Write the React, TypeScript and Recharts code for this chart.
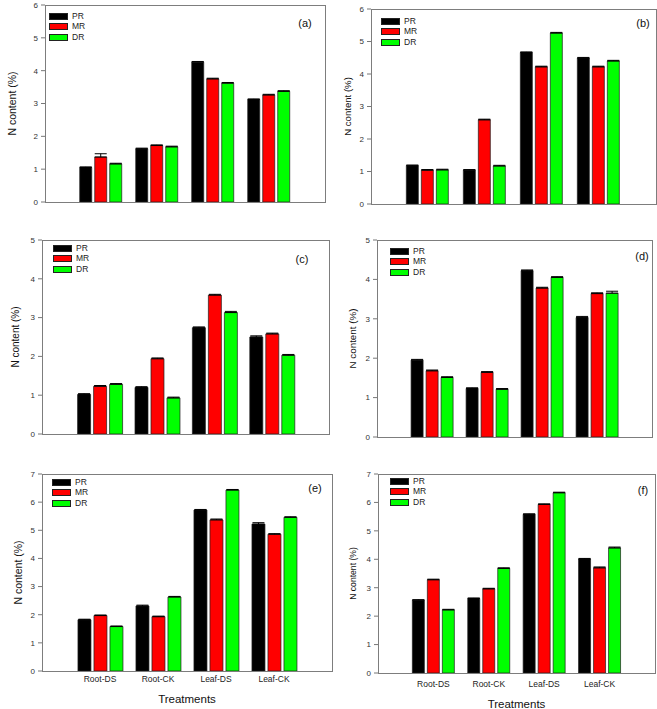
import React from 'react';
import { BarChart, Bar, XAxis, YAxis, ErrorBar, Legend } from 'recharts';

const treatments = ['Root-DS', 'Root-CK', 'Leaf-DS', 'Leaf-CK'];
const seriesNames = ['PR', 'MR', 'DR'];
const seriesColors = ['#000000', '#ff0000', '#00ff00'];

const ticks5 = [0, 1, 2, 3, 4, 5];
const ticks6 = [0, 1, 2, 3, 4, 5, 6];
const ticks7 = [0, 1, 2, 3, 4, 5, 6, 7];

// (a)
const aPR = [1.05, 1.62, 4.26, 3.12];
const aMR = [1.37, 1.72, 3.75, 3.26];
const aDR = [1.16, 1.68, 3.62, 3.37];
const aPRerr = [0.02, 0.02, 0.02, 0.02];
const aMRerr = [0.1, 0.02, 0.02, 0.02];
const aDRerr = [0.02, 0.02, 0.02, 0.02];

// (b)
const bPR = [1.18, 1.04, 4.66, 4.49];
const bMR = [1.04, 2.59, 4.22, 4.22];
const bDR = [1.05, 1.17, 5.26, 4.4];
const bPRerr = [0.02, 0.02, 0.02, 0.02];
const bMRerr = [0.02, 0.02, 0.02, 0.02];
const bDRerr = [0.02, 0.02, 0.02, 0.02];

// (c)
const cPR = [1.02, 1.2, 2.74, 2.5];
const cMR = [1.23, 1.94, 3.58, 2.58];
const cDR = [1.28, 0.93, 3.13, 2.03];
const cPRerr = [0.02, 0.02, 0.02, 0.03];
const cMRerr = [0.02, 0.02, 0.02, 0.02];
const cDRerr = [0.02, 0.02, 0.03, 0.02];

// (d)
const dPR = [1.95, 1.23, 4.22, 3.03];
const dMR = [1.68, 1.64, 3.78, 3.64];
const dDR = [1.51, 1.21, 4.05, 3.65];
const dPRerr = [0.02, 0.02, 0.02, 0.03];
const dMRerr = [0.02, 0.02, 0.02, 0.02];
const dDRerr = [0.02, 0.02, 0.02, 0.05];

// (e)
const ePR = [1.82, 2.31, 5.72, 5.22];
const eMR = [1.97, 1.93, 5.37, 4.86];
const eDR = [1.58, 2.63, 6.43, 5.46];
const ePRerr = [0.02, 0.03, 0.02, 0.05];
const eMRerr = [0.02, 0.02, 0.03, 0.02];
const eDRerr = [0.02, 0.02, 0.02, 0.02];

// (f)
const fPR = [2.56, 2.62, 5.58, 4.01];
const fMR = [3.28, 2.96, 5.93, 3.7];
const fDR = [2.22, 3.68, 6.34, 4.4];
const fPRerr = [0.02, 0.02, 0.02, 0.02];
const fMRerr = [0.02, 0.02, 0.02, 0.03];
const fDRerr = [0.02, 0.02, 0.02, 0.03];

const makeRows = (pr: number[], mr: number[], dr: number[], pe: number[], me: number[], de: number[]) =>
  treatments.map((name, i) => ({
    name,
    PR: pr[i],
    MR: mr[i],
    DR: dr[i],
    PRe: [0, pe[i]],
    MRe: [0, me[i]],
    DRe: [0, de[i]],
  }));

const panels = [
  {
    id: 'a', rows: makeRows(aPR, aMR, aDR, aPRerr, aMRerr, aDRerr), ticks: ticks6,
    box: { x: 0, y: 0, w: 340, h: 225 }, plot: { l: 45, t: 5, r: 325, b: 202 },
    legend: { x: 49, y: 16 }, letter: { x: 305, y: 23 }, ylab: { x: 12, size: 10.5 },
  },
  {
    id: 'b', rows: makeRows(bPR, bMR, bDR, bPRerr, bMRerr, bDRerr), ticks: ticks6,
    box: { x: 330, y: 0, w: 327, h: 225 }, plot: { l: 371, t: 9, r: 656, b: 204 },
    legend: { x: 381, y: 21 }, letter: { x: 643, y: 23 }, ylab: { x: 348, size: 9.6 },
  },
  {
    id: 'c', rows: makeRows(cPR, cMR, cDR, cPRerr, cMRerr, cDRerr), ticks: ticks5,
    box: { x: 0, y: 225, w: 340, h: 230 }, plot: { l: 42, t: 240, r: 329, b: 434 },
    legend: { x: 53, y: 248 }, letter: { x: 302, y: 259 }, ylab: { x: 15, size: 10 },
  },
  {
    id: 'd', rows: makeRows(dPR, dMR, dDR, dPRerr, dMRerr, dDRerr), ticks: ticks5,
    box: { x: 330, y: 225, w: 327, h: 230 }, plot: { l: 377, t: 240, r: 652, b: 437 },
    legend: { x: 390, y: 251 }, letter: { x: 642, y: 256 }, ylab: { x: 353, size: 9.8 },
  },
  {
    id: 'e', rows: makeRows(ePR, eMR, eDR, ePRerr, eMRerr, eDRerr), ticks: ticks7,
    box: { x: 0, y: 455, w: 340, h: 254 }, plot: { l: 42, t: 474, r: 332, b: 671 },
    legend: { x: 52, y: 482 }, letter: { x: 315, y: 488 }, ylab: { x: 18, size: 10.5 },
    bottom: { base: 703, tickMargin: 5 },
  },
  {
    id: 'f', rows: makeRows(fPR, fMR, fDR, fPRerr, fMRerr, fDRerr), ticks: ticks7,
    box: { x: 330, y: 455, w: 327, h: 254 }, plot: { l: 378, t: 474, r: 655, b: 673 },
    legend: { x: 390, y: 481 }, letter: { x: 643, y: 490 }, ylab: { x: 353, size: 8.6 },
    bottom: { base: 708, tickMargin: 8 },
  },
];

const ROW_H = 10.5;

// keep PR / MR / DR order (recharts sorts legend items by name otherwise)
const renderLegend = (props: any) => {
  const items = [...(props.payload || [])].sort(
    (x: any, y: any) => seriesNames.indexOf(x.value) - seriesNames.indexOf(y.value)
  );
  return (
    <div style={{ fontSize: 8.5, color: '#222', lineHeight: `${ROW_H}px` }}>
      {items.map((p: any) => (
        <div key={p.value} style={{ display: 'flex', alignItems: 'center', height: ROW_H }}>
          <span
            style={{
              display: 'inline-block',
              width: 17,
              height: 5,
              background: p.color,
              border: '1px solid #222',
              marginRight: 4,
            }}
          />
          <span>{p.value}</span>
        </div>
      ))}
    </div>
  );
};

const Panel = ({ p }: { p: any }) => {
  const { box, plot } = p;
  const ml = 2;
  const yw = plot.l - box.x - ml;
  const mt = plot.t - box.y;
  const mr = box.x + box.w - plot.r;
  const xh = p.bottom ? p.bottom.base - plot.b : 2;
  const mb = box.y + box.h - plot.b - xh;
  const pw = plot.r - plot.l;
  const pad = pw / 10;
  const yMax = p.ticks[p.ticks.length - 1];

  return (
    <div style={{ position: 'absolute', left: box.x, top: box.y, width: box.w, height: box.h }}>
      <BarChart
        width={box.w}
        height={box.h}
        data={p.rows}
        margin={{ top: mt, right: mr, bottom: mb, left: ml }}
        barCategoryGap="12%"
        barGap={3}
      >
        <XAxis
          dataKey="name"
          padding={{ left: pad, right: pad }}
          axisLine={false}
          tickLine={false}
          tickSize={0}
          height={xh}
          tickMargin={p.bottom ? p.bottom.tickMargin : 0}
          tick={p.bottom ? { fontSize: 8.5, fill: '#222' } : false}
          interval={0}
          label={
            p.bottom
              ? { value: 'Treatments', position: 'insideBottom', offset: 0, style: { fontSize: 11.5, fill: '#111' } }
              : undefined
          }
        />
        <YAxis
          width={yw}
          domain={[0, yMax]}
          ticks={p.ticks}
          allowDataOverflow
          axisLine={false}
          tickLine={{ stroke: '#777' }}
          tickSize={4}
          tickMargin={3}
          tick={{ fontSize: 8, fill: '#333' }}
          label={{
            value: 'N content (%)',
            angle: -90,
            position: 'insideLeft',
            offset: p.ylab.x - box.x - ml,
            style: { textAnchor: 'middle', fontSize: p.ylab.size, fill: '#111' },
          }}
        />
        <Legend
          layout="vertical"
          align="center"
          verticalAlign="middle"
          wrapperStyle={{ left: p.legend.x - box.x, top: p.legend.y - ROW_H / 2 - box.y, width: 60 }}
          content={renderLegend}
        />
        {seriesNames.map((s, i) => (
          <Bar
            key={s}
            dataKey={s}
            name={s}
            fill={seriesColors[i]}
            stroke="#1e1e1e"
            strokeWidth={0.7}
            isAnimationActive={false}
          >
            <ErrorBar dataKey={`${s}e`} width={6} stroke="#000" strokeWidth={1} direction="y" />
          </Bar>
        ))}
      </BarChart>
      <div
        style={{
          position: 'absolute',
          left: plot.l - box.x,
          top: plot.t - box.y,
          width: pw + 1,
          height: plot.b - plot.t + 1,
          border: '1px solid #7d7d7d',
          boxSizing: 'border-box',
          pointerEvents: 'none',
        }}
      />
      <div
        style={{
          position: 'absolute',
          left: p.letter.x - box.x,
          top: p.letter.y - box.y,
          transform: 'translate(-50%, -50%)',
          fontSize: 11,
          color: '#111',
          whiteSpace: 'nowrap',
        }}
      >
        ({p.id})
      </div>
    </div>
  );
};

export default function App() {
  return (
    <div
      style={{
        position: 'absolute',
        left: 0,
        top: 0,
        width: 657,
        height: 709,
        background: '#fff',
        fontFamily: '"Liberation Sans", Arial, sans-serif',
      }}
    >
      {panels.map((p) => (
        <Panel key={p.id} p={p} />
      ))}
    </div>
  );
}
